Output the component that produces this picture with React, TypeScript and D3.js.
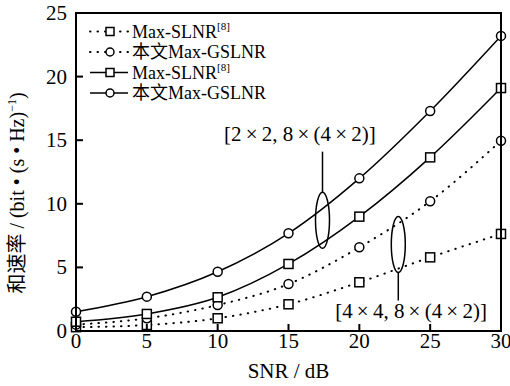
import React from 'react';
import * as d3 from 'd3';

const snr = [0, 5, 10, 15, 20, 25, 30];
const slnr2x2 = [0.73, 1.34, 2.65, 5.27, 8.99, 13.65, 19.1];
const gslnr2x2 = [1.52, 2.7, 4.66, 7.68, 12.0, 17.3, 23.2];
const slnr4x4 = [0.3, 0.47, 1.0, 2.1, 3.83, 5.79, 7.63];
const gslnr4x4 = [0.5, 1.0, 2.04, 3.69, 6.58, 10.2, 14.96];
const xTicks = [0, 5, 10, 15, 20, 25, 30];
const yTicks = [0, 5, 10, 15, 20, 25];

const W = 510;
const H = 386;
const m = { left: 76, right: 9, top: 13, bottom: 55 };
const serif = '"Liberation Serif", "Times New Roman", "Noto Sans CJK SC", serif';

export default function App() {
    const x = d3.scaleLinear().domain([0, 30]).range([m.left, W - m.right]);
    const y = d3.scaleLinear().domain([0, 25]).range([H - m.bottom, m.top]);

    const lineGen = d3
        .line<number>()
        .x((d, i) => x(snr[i]))
        .y((d) => y(d))
        .curve(d3.curveMonotoneX);

    const series = [
        { vals: slnr4x4, marker: 'square', dotted: true },
        { vals: gslnr4x4, marker: 'circle', dotted: true },
        { vals: slnr2x2, marker: 'square', dotted: false },
        { vals: gslnr2x2, marker: 'circle', dotted: false },
    ];

    const marker = (type: string, cx: number, cy: number, key: string, s = 9) =>
        type === 'square' ? (
            <rect key={key} x={cx - s / 2} y={cy - s / 2} width={s} height={s} fill="white" stroke="black" strokeWidth={1.5} />
        ) : (
            <circle key={key} cx={cx} cy={cy} r={s / 2} fill="white" stroke="black" strokeWidth={1.5} />
        );

    const legendNames = [
        { main: 'Max-SLNR', sup: '[8]' },
        { main: '本文Max-GSLNR', sup: '' },
        { main: 'Max-SLNR', sup: '[8]' },
        { main: '本文Max-GSLNR', sup: '' },
    ];
    const legendY = [31.5, 52, 72.5, 93];

    const x0 = x(0);
    const y0 = y(0);
    const ts = { fontFamily: serif };
    const mul = '\u2009×\u2009';

    return (
        <svg width={W} height={H} style={{ position: 'absolute', left: 0, top: 0, fontFamily: serif }}>
            <rect width={W} height={H} fill="white" />
            {/* series */}
            {series.map((s, si) => (
                <path
                    key={si}
                    d={lineGen(s.vals) || ''}
                    fill="none"
                    stroke="black"
                    strokeWidth={s.dotted ? 2 : 1.5}
                    strokeDasharray={s.dotted ? '0.5,7' : undefined}
                    strokeLinecap={s.dotted ? 'round' : 'butt'}
                />
            ))}
            {series.map((s, si) => (
                <g key={'m' + si}>{s.vals.map((v, i) => marker(s.marker, x(snr[i]), y(v), si + '-' + i))}</g>
            ))}

            {/* frame */}
            <rect x={x0} y={y(25)} width={x(30) - x0} height={y0 - y(25)} fill="none" stroke="black" strokeWidth={2} />
            {xTicks.map((t) => (
                <g key={'x' + t}>
                    <line x1={x(t)} x2={x(t)} y1={y0} y2={y0 - 7} stroke="black" strokeWidth={2} />
                    <text x={x(t)} y={y0 + 17} fontSize={21} textAnchor="middle" style={ts}>
                        {t}
                    </text>
                </g>
            ))}
            {yTicks.map((t) => (
                <g key={'y' + t}>
                    <line x1={x0} x2={x0 + 7} y1={y(t)} y2={y(t)} stroke="black" strokeWidth={2} />
                    <text x={x0 - 9} y={y(t) + 7} fontSize={21} textAnchor="end" style={ts}>
                        {t}
                    </text>
                </g>
            ))}
            <text x={(x0 + x(30)) / 2} y={378} fontSize={21} textAnchor="middle" style={ts}>
                SNR / dB
            </text>
            <text transform="translate(24,193) rotate(-90)" fontSize={20} textAnchor="middle" style={ts}>
                和速率 / (bit • (s • Hz)
                <tspan dy={-8} fontSize={12}>
                    −1
                </tspan>
                <tspan dy={8}>)</tspan>
            </text>

            {/* legend */}
            {series.map((s, i) => (
                <g key={'l' + i}>
                    <line
                        x1={90}
                        x2={128}
                        y1={legendY[i]}
                        y2={legendY[i]}
                        stroke="black"
                        strokeWidth={s.dotted ? 2 : 1.5}
                        strokeDasharray={s.dotted ? '0.5,7' : undefined}
                        strokeLinecap={s.dotted ? 'round' : 'butt'}
                    />
                    {marker(s.marker, 110, legendY[i], 'lm' + i, 8)}
                    <text x={132} y={legendY[i] + 6} fontSize={18} style={ts}>
                        {legendNames[i].main}
                        {legendNames[i].sup && (
                            <tspan dy={-8} fontSize={11}>
                                {legendNames[i].sup}
                            </tspan>
                        )}
                    </text>
                </g>
            ))}

            {/* annotations */}
            <ellipse cx={x(17.4)} cy={y(8.7)} rx={7} ry={28} fill="none" stroke="black" strokeWidth={1.5} />
            <line x1={x(17.4)} x2={x(17.4)} y1={y(8.7) - 28} y2={y(14.1)} stroke="black" strokeWidth={1.5} />
            <text x={x(15.8)} y={y(14.9)} fontSize={21} textAnchor="middle" style={ts}>
                {`[2${mul}2, 8${mul}(4${mul}2)]`}
            </text>
            <ellipse cx={x(22.75)} cy={y(6.8)} rx={7} ry={28} fill="none" stroke="black" strokeWidth={1.5} />
            <line x1={x(22.75)} x2={x(22.75)} y1={y(6.8) + 28} y2={y(2.4)} stroke="black" strokeWidth={1.5} />
            <text x={x(23.65)} y={y(1.0)} fontSize={21} textAnchor="middle" style={ts}>
                {`[4${mul}4, 8${mul}(4${mul}2)]`}
            </text>
        </svg>
    );
}
